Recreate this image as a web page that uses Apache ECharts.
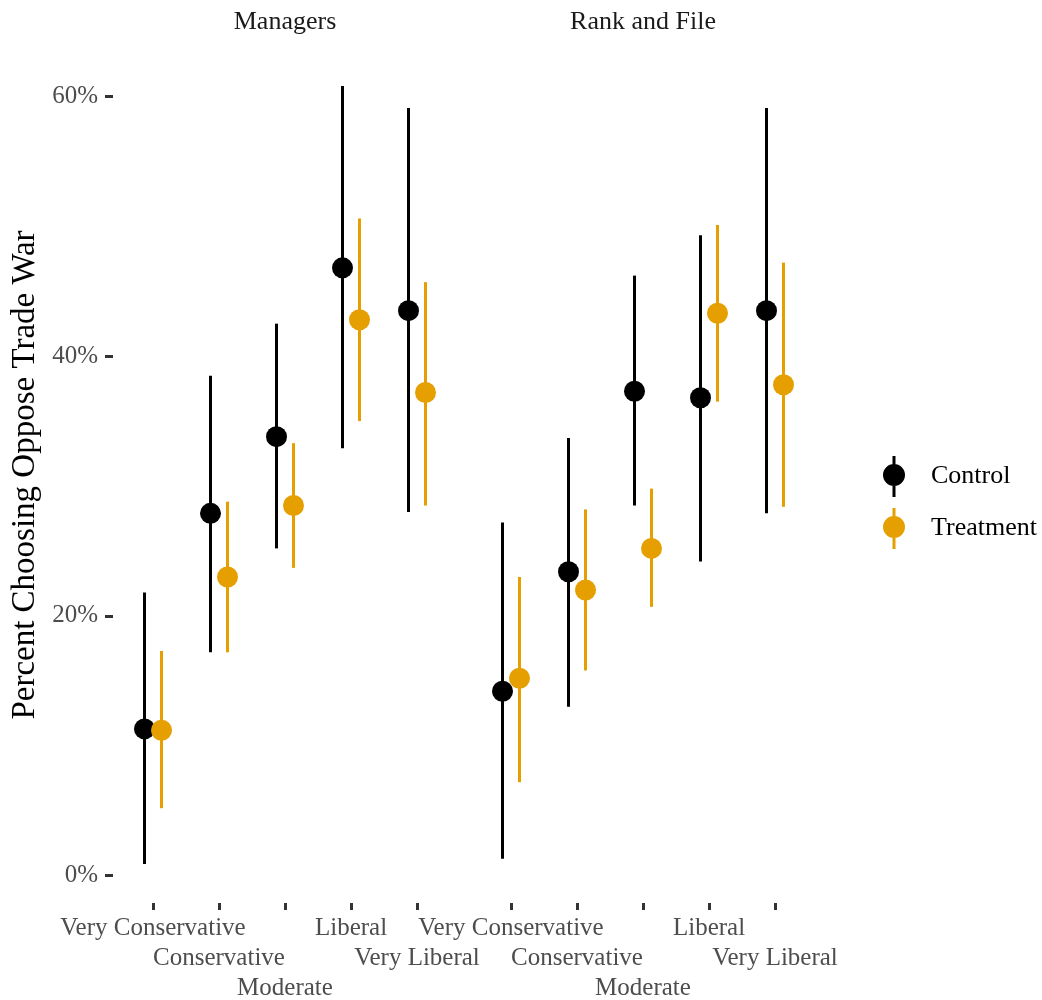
<!DOCTYPE html>
<html>
<head>
<meta charset="utf-8">
<script src="https://cdn.jsdelivr.net/npm/echarts@6/dist/echarts.min.js"></script>
<style>
  html, body { margin: 0; padding: 0; background: #fff; }
  #chart-container { width: 1042px; height: 1000px; }
</style>
</head>
<body>
<div id="chart-container"></div>
<script>
// categories and facets
var categories = ['Very Conservative', 'Conservative', 'Moderate', 'Liberal', 'Very Liberal'];
var facets = ['Managers', 'Rank and File'];
var groups = ['Control', 'Treatment'];
var yTicks = [0, 20, 40, 60];

// Managers (percent)
var mgrControlEst = [11.3, 27.9, 33.8, 46.8, 43.5];
var mgrControlLo  = [0.9, 17.2, 25.2, 32.9, 28.0];
var mgrControlHi  = [21.8, 38.5, 42.5, 60.8, 59.1];
var mgrTreatEst   = [11.2, 23.0, 28.5, 42.8, 37.2];
var mgrTreatLo    = [5.2, 17.2, 23.7, 35.0, 28.5];
var mgrTreatHi    = [17.3, 28.8, 33.3, 50.6, 45.7];

// Rank and File (percent)
var rfControlEst = [14.2, 23.4, 37.3, 36.8, 43.5];
var rfControlLo  = [1.3, 13.0, 28.5, 24.2, 27.9];
var rfControlHi  = [27.2, 33.7, 46.2, 49.3, 59.1];
var rfTreatEst   = [15.2, 22.0, 25.2, 43.3, 37.8];
var rfTreatLo    = [7.2, 15.8, 20.7, 36.5, 28.4];
var rfTreatHi    = [23.0, 28.2, 29.8, 50.1, 47.2];

var colors = { Control: '#000000', Treatment: '#E69F00' };
var dodge = { Control: -8.5, Treatment: 8.5 };
var FONT = 'Liberation Serif';

var dom = document.getElementById('chart-container');
var myChart = echarts.init(dom, null, { renderer: 'canvas' });

function rows(est, lo, hi) {
    return categories.map(function (c, i) { return [i, est[i], lo[i], hi[i]]; });
}

function pointRange(group) {
    return function (params, api) {
        var mid = api.coord([api.value(0), api.value(1)]);
        var lo = api.coord([api.value(0), api.value(2)]);
        var hi = api.coord([api.value(0), api.value(3)]);
        var x = mid[0] + dodge[group];
        return {
            type: 'group',
            children: [
                { type: 'line', shape: { x1: x, y1: lo[1], x2: x, y2: hi[1] },
                  style: { stroke: colors[group], lineWidth: 3, lineCap: 'butt' } },
                { type: 'circle', shape: { cx: x, cy: mid[1], r: 10.5 },
                  style: { fill: colors[group] } }
            ]
        };
    };
}

function makeSeries(group, idx, data) {
    return {
        type: 'custom',
        name: group,
        xAxisIndex: idx,
        yAxisIndex: idx,
        itemStyle: { color: colors[group] },
        renderItem: pointRange(group),
        encode: { x: 0, y: [1, 2, 3] },
        data: data,
        silent: true
    };
}

function xAxis(idx) {
    return {
        type: 'category',
        gridIndex: idx,
        data: categories,
        axisLine: { show: false, onZero: false },
        axisTick: { show: true, alignWithLabel: true, length: 7, lineStyle: { color: '#333333', width: 3 } },
        axisLabel: {
            interval: 0,
            margin: 10,
            color: '#4D4D4D',
            fontFamily: FONT,
            fontSize: 25,
            lineHeight: 30,
            formatter: function (v, i) {
                return (i % 3 === 1 ? '\n' : i % 3 === 2 ? '\n\n' : '') + v;
            }
        },
        splitLine: { show: false }
    };
}

function yAxis(idx) {
    return {
        type: 'value',
        gridIndex: idx,
        min: -2.1,
        max: 63.8,
        show: idx === 0,
        offset: 7,
        axisLine: { show: false },
        axisTick: { show: true, customValues: yTicks, length: 8, lineStyle: { color: '#333333', width: 3 } },
        axisLabel: {
            customValues: yTicks,
            margin: 15,
            color: '#4D4D4D',
            fontFamily: FONT,
            fontSize: 25,
            formatter: function (v) { return v + '%'; }
        },
        splitLine: { show: false }
    };
}

var option = {
    backgroundColor: '#ffffff',
    animation: false,
    grid: [
        { left: 120, width: 330, top: 47, height: 856, outerBoundsMode: 'none' },
        { left: 478, width: 330, top: 47, height: 856, outerBoundsMode: 'none' }
    ],
    xAxis: [xAxis(0), xAxis(1)],
    yAxis: [yAxis(0), yAxis(1)],
    legend: {
        data: groups,
        orient: 'vertical',
        left: 878,
        top: 451,
        itemWidth: 22,
        itemHeight: 41,
        itemGap: 11,
        selectedMode: false,
        icon: 'path://M9.5,0 h3 v41 h-3 z M0,19 a11,11 0 1,1 22,0 a11,11 0 1,1 -22,0 z',
        textStyle: { fontFamily: FONT, fontSize: 26, color: '#000000', padding: [0, 0, 0, 21] }
    },
    graphic: [
        { type: 'text', x: 285, y: 22, style: { text: facets[0], fontFamily: FONT, fontSize: 26,
          fill: '#1A1A1A', align: 'center', verticalAlign: 'middle' } },
        { type: 'text', x: 643, y: 22, style: { text: facets[1], fontFamily: FONT, fontSize: 26,
          fill: '#1A1A1A', align: 'center', verticalAlign: 'middle' } },
        { type: 'text', x: 25, y: 475, rotation: Math.PI / 2,
          style: { text: 'Percent Choosing Oppose Trade War', fontFamily: FONT, fontSize: 33,
          fill: '#000000', align: 'center', verticalAlign: 'middle' } }
    ],
    series: [
        makeSeries('Control', 0, rows(mgrControlEst, mgrControlLo, mgrControlHi)),
        makeSeries('Control', 1, rows(rfControlEst, rfControlLo, rfControlHi)),
        makeSeries('Treatment', 0, rows(mgrTreatEst, mgrTreatLo, mgrTreatHi)),
        makeSeries('Treatment', 1, rows(rfTreatEst, rfTreatLo, rfTreatHi))
    ]
};

if (option && typeof option === 'object') {
    myChart.setOption(option);
}

window.addEventListener('resize', myChart.resize);
</script>
</body>
</html>
